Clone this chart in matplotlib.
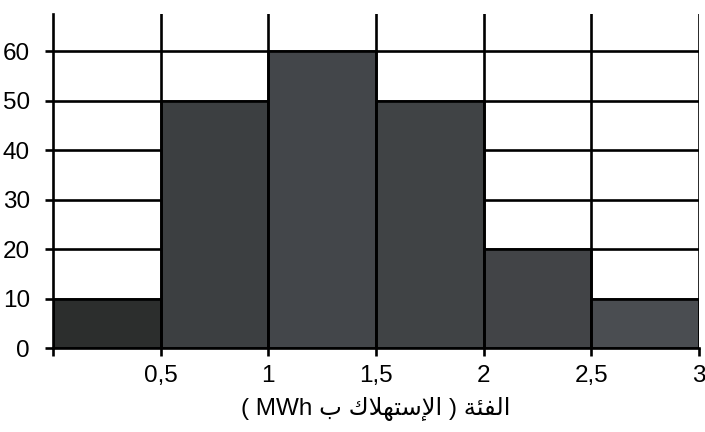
import numpy as np
import matplotlib
matplotlib.use("Agg")
import matplotlib.pyplot as plt

# data
edges = [0, 0.5, 1, 1.5, 2, 2.5, 3]
counts = [10, 50, 60, 50, 20, 10]
xtick_labels = ['', '0,5', '1', '1,5', '2', '2,5', '3']
yticks = [0, 10, 20, 30, 40, 50, 60]
# axis label, written in visual order with arabic presentation forms
# (logical text: الفئة ( الإستهلاك ب MWh ))
xlabel_txt = "( MWh \uFE8F \uFED9\uFEFC\uFEEC\uFE98\uFEB3\uFEF9\uFE8D ) \uFE94\uFE8C\uFED4\uFEDF\uFE8D"

bar_colors = ['#2c2e2d', '#3c3f41', '#43464a', '#404345', '#424447', '#4a4d51']

plt.rcParams['font.family'] = ['Liberation Sans', 'DejaVu Sans']

fig = plt.figure(figsize=(7.05, 4.32), dpi=100)
ax = fig.add_axes([0.0752, 0.1944, 0.9163, 0.7732])

lw = 1.9
# horizontal grid lines (behind bars)
for y in yticks[1:]:
    ax.axhline(y, color='black', lw=lw, zorder=1)

left = np.array(edges[:-1])
width = np.diff(edges)
ax.bar(left, counts, width=width, align='edge', color=bar_colors,
       edgecolor='black', linewidth=lw, zorder=2)

# vertical lines over everything
for x in edges[1:]:
    ax.axvline(x, color='black', lw=lw, zorder=3)

ax.set_xlim(0, 3)
ax.set_ylim(0, 67.5)
ax.set_xticks(edges)
ax.set_xticklabels(xtick_labels)
ax.set_yticks(yticks)

for s in ['top', 'right']:
    ax.spines[s].set_visible(False)
for s in ['left', 'bottom']:
    ax.spines[s].set_linewidth(lw)
    ax.spines[s].set_zorder(4)

ax.tick_params(axis='both', length=5.5, width=lw, labelsize=17.5, colors='black')
ax.tick_params(axis='y', pad=11)
ax.tick_params(axis='x', pad=7)

ax.set_xlabel(xlabel_txt, fontsize=17.5, labelpad=7)

fig.savefig('out.png', dpi=100)
